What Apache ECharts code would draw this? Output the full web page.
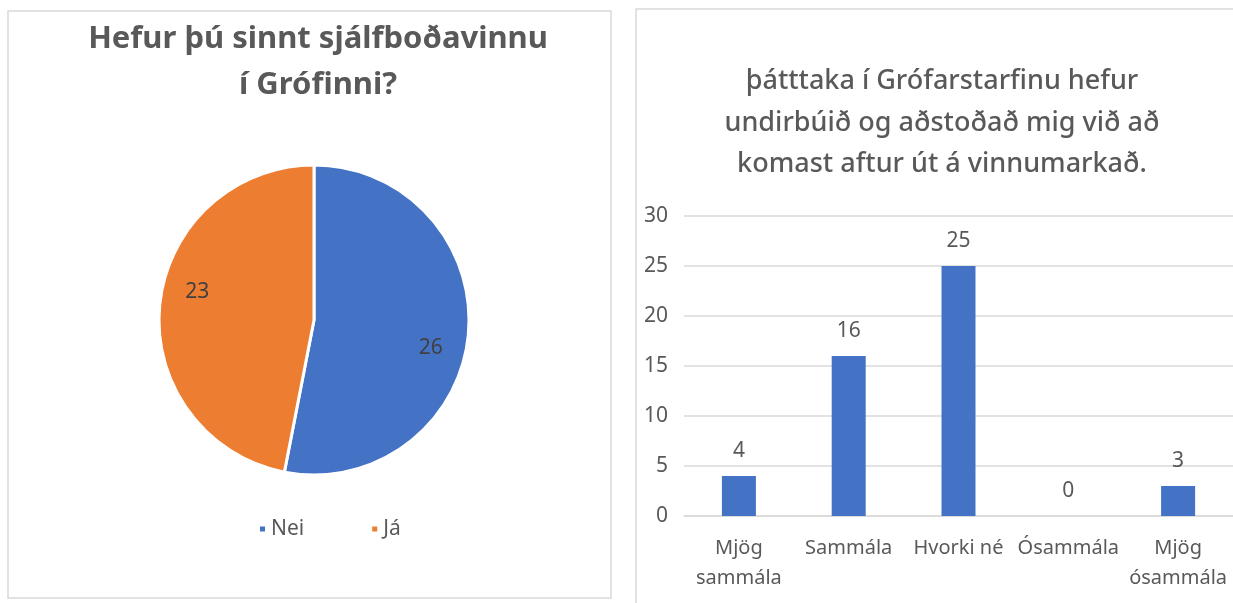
<!DOCTYPE html>
<html>
<head>
<meta charset="utf-8">
<script src="https://cdn.jsdelivr.net/npm/echarts@6/dist/echarts.min.js"></script>
<style>
  html, body { margin: 0; padding: 0; background: #fff; overflow: hidden; }
  #chart { width: 1233px; height: 603px; }
</style>
</head>
<body>
<div id="chart"></div>
<script>
// pie: Hefur þú sinnt sjálfboðavinnu í Grófinni?
const pieNames = ['Nei', 'Já']
const pieValues = [26, 23]
const pieColors = ['#4472c4', '#ed7d31']

// bar: þátttaka í Grófarstarfinu ...
const barCategories = ['Mjög\nsammála', 'Sammála', 'Hvorki né', 'Ósammála', 'Mjög\nósammála']
const barValues = [4, 16, 25, 0, 3]
const yMin = 0
const yMax = 30
const yStep = 5

const FONT = '"Noto Sans", "Open Sans", sans-serif'
const GREY = '#595959'
const LINE = '#d9d9d9'

const pieData = pieNames.map((n, i) => ({ name: n, value: pieValues[i], itemStyle: { color: pieColors[i] } }))

let myChart = echarts.init(document.getElementById('chart'))
myChart.setOption({
  animation: false,
  textStyle: { fontFamily: FONT },
  graphic: [
    { type: 'rect', shape: { x: 8, y: 11, width: 603, height: 587 }, style: { fill: 'none', stroke: LINE, lineWidth: 1.5 }, silent: true },
    { type: 'rect', shape: { x: 636, y: 9, width: 640, height: 640 }, style: { fill: 'none', stroke: LINE, lineWidth: 1.5 }, silent: true }
  ],
  title: [
    {
      text: 'Hefur þú sinnt sjálfboðavinnu\ní Grófinni?',
      left: 313,
      top: 11,
      textAlign: 'center',
      textStyle: { fontFamily: FONT, fontSize: 31, fontWeight: 'bold', color: GREY, lineHeight: 46 }
    },
    {
      text: 'þátttaka í Grófarstarfinu hefur\nundirbúið og aðstoðað mig við að\nkomast aftur út á vinnumarkað.',
      left: 937,
      top: 56,
      textAlign: 'center',
      textStyle: { fontFamily: FONT, fontSize: 27, fontWeight: 500, color: GREY, lineHeight: 41.5 }
    }
  ],
  legend: {
    data: pieNames,
    left: 253,
    top: 513,
    icon: 'rect',
    itemWidth: 7,
    itemHeight: 7,
    itemGap: 66,
    textStyle: { fontFamily: FONT, fontSize: 21, color: GREY, lineHeight: 22 }
  },
  grid: { left: 684, right: -2, top: 216, bottom: 87, containLabel: false },
  xAxis: {
    type: 'category',
    data: barCategories,
    axisTick: { show: false },
    axisLine: { lineStyle: { color: LINE, width: 1.5 } },
    axisLabel: { fontFamily: FONT, fontSize: 20, color: GREY, lineHeight: 30, margin: 17, interval: 0 }
  },
  yAxis: {
    type: 'value',
    min: yMin,
    max: yMax,
    interval: yStep,
    axisLine: { show: false },
    axisTick: { show: false },
    axisLabel: { fontFamily: FONT, fontSize: 21, color: GREY, margin: 16 },
    splitLine: { lineStyle: { color: LINE, width: 1.5 } }
  },
  series: [
    {
      type: 'pie',
      center: [314, 320],
      radius: 155,
      startAngle: 90,
      clockwise: true,
      data: pieData,
      itemStyle: { borderColor: '#fff', borderWidth: 3 },
      label: { show: false },
      labelLine: { show: false }
    },
    {
      // invisible copy only used to place the value labels further out
      type: 'pie',
      center: [314, 320],
      radius: [0, 234],
      startAngle: 82,
      clockwise: true,
      silent: true,
      data: pieData.map(d => ({ name: d.name, value: d.value, itemStyle: { color: 'rgba(0,0,0,0)' } })),
      label: { show: true, position: 'inside', formatter: '{c}', fontFamily: FONT, fontSize: 21, color: '#404040' },
      labelLine: { show: false }
    },
    {
      type: 'bar',
      data: barValues,
      barWidth: 34,
      itemStyle: { color: '#4472c4' },
      label: { show: true, position: 'top', distance: 14, fontFamily: FONT, fontSize: 21, color: GREY }
    }
  ]
})
</script>
</body>
</html>
